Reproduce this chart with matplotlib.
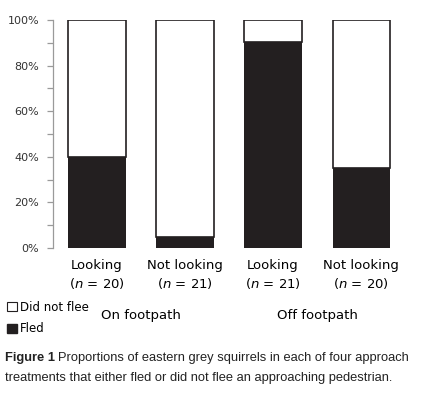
import matplotlib.pyplot as plt
import matplotlib.transforms as mtransforms
from matplotlib.patches import Patch
from matplotlib.ticker import MultipleLocator, PercentFormatter

plt.rcParams["mathtext.fontset"] = "custom"
plt.rcParams["mathtext.it"] = "DejaVu Sans:italic"
plt.rcParams["mathtext.rm"] = "DejaVu Sans"

# treatments and group labels
treatments = ["Looking", "Not looking", "Looking", "Not looking"]
sample_sizes = [20, 21, 21, 20]
groups = ["On footpath", "Off footpath"]
fled = [40.0, 4.8, 90.5, 35.0]
did_not_flee = [100 - v for v in fled]

fig = plt.figure(figsize=(4.27, 3.93), dpi=100)
ax = fig.add_axes([0.124, 0.369, 0.825, 0.580])

x = list(range(len(treatments)))
ax.bar(x, fled, width=0.65, color="#231f20", edgecolor="none", zorder=2)
ax.bar(x, did_not_flee, bottom=fled, width=0.65, color="white",
       edgecolor="#231f20", linewidth=1.2, zorder=3)

ax.set_xlim(-0.5, 3.5)
ax.set_ylim(0, 100)
ax.yaxis.set_major_locator(MultipleLocator(20))
ax.yaxis.set_minor_locator(MultipleLocator(10))
ax.yaxis.set_major_formatter(PercentFormatter(decimals=0))
for s in ["top", "right", "bottom"]:
    ax.spines[s].set_visible(False)
ax.spines["left"].set_color("#9a9a9a")
ax.spines["left"].set_linewidth(0.9)
ax.tick_params(axis="y", which="both", length=4, color="#9a9a9a", width=0.9,
               labelsize=8, labelcolor="#333333", pad=6)
ax.set_xticks(x)
ax.set_xticklabels([f"{t}\n($\\it{{n}}$ = {n})" for t, n in zip(treatments, sample_sizes)],
                   fontsize=9.5, linespacing=1.3)
ax.tick_params(axis="x", length=0, pad=8)

trans = mtransforms.blended_transform_factory(ax.transData, fig.transFigure)
for i, g in enumerate(groups):
    ax.text(2 * i + 0.5, 1 - 315 / 393, g, transform=trans, ha="center",
            va="center", fontsize=9.5)

handles = [Patch(facecolor="white", edgecolor="#231f20", linewidth=0.8),
           Patch(facecolor="#231f20", edgecolor="#231f20")]
fig.legend(handles, ["Did not flee", "Fled"], loc="upper left",
           bbox_to_anchor=(0.0, 1 - 294 / 393), frameon=False, fontsize=8.5,
           handlelength=0.8, handleheight=0.8, handletextpad=0.3,
           labelspacing=0.7, borderaxespad=0.2)

fig.text(0.012, 1 - 358 / 393, "Figure 1", fontsize=9.3, family="Liberation Sans",
         weight="bold", va="center", color="#222222")
fig.text(0.137, 1 - 358 / 393, "Proportions of eastern grey squirrels in each of four approach",
         fontsize=9.3, family="Liberation Sans", va="center", color="#222222")
fig.text(0.012, 1 - 378 / 393, "treatments that either fled or did not flee an approaching pedestrian.",
         fontsize=9.3, family="Liberation Sans", va="center", color="#222222")

fig.savefig("out.png", dpi=100)
